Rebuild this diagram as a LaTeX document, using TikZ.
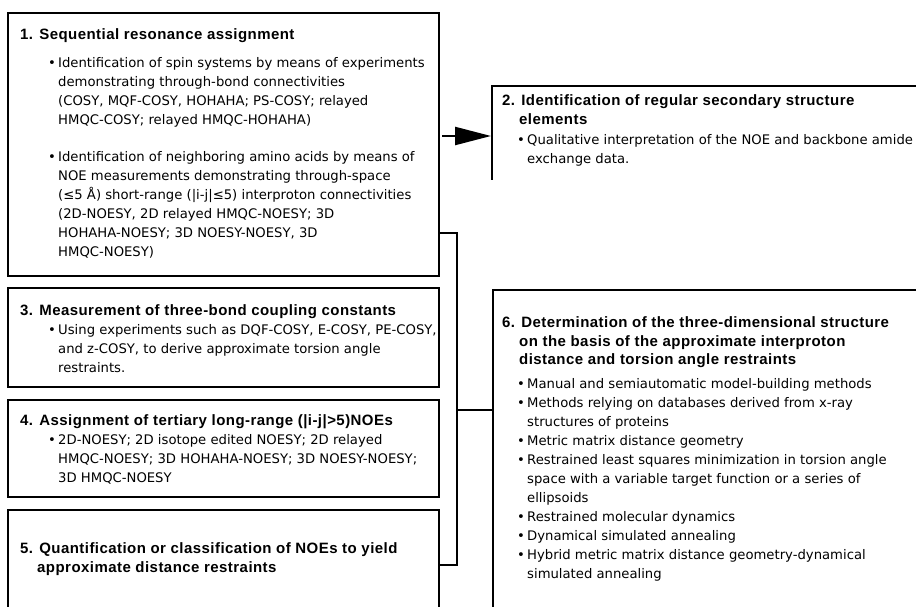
\documentclass[tikz,border=0pt]{standalone}
\usepackage{fontspec}
\usetikzlibrary{arrows.meta}
\setmainfont{Liberation Sans}
\newfontfamily\headfont[LetterSpace=3]{Liberation Sans}
\newfontfamily\bodyfont{DejaVu Sans}
% bullet and hanging indent for list lines
\newcommand\bul{\makebox[10pt][l]{•}}
\newcommand\ind{\hspace*{10pt}}
\begin{document}
\begin{tikzpicture}[x=1pt,y=-1pt,
  frame/.style={line width=2.6pt},
  link/.style={line width=2.3pt},
  head/.style={anchor=north west, align=left, inner sep=0pt,
    font=\headfont\bfseries\fontsize{15}{18.5}\selectfont},
  body/.style={anchor=north west, align=left, inner sep=0pt,
    font=\bodyfont\fontsize{13.2}{19}\selectfont}]
\useasboundingbox (0,0) rectangle (916,607);
\begin{scope}
\clip (0,0) rectangle (916,607);

% step boxes on the left
\coordinate (b1nw) at (8,13);   \coordinate (b1se) at (439,276);
\coordinate (b3nw) at (8,288);  \coordinate (b3se) at (439,387);
\coordinate (b4nw) at (8,400);  \coordinate (b4se) at (439,497);
\coordinate (b5nw) at (8,510);  \coordinate (b5se) at (439,625);
\draw[frame] (b1nw) rectangle (b1se);
\draw[frame] (b3nw) rectangle (b3se);
\draw[frame] (b4nw) rectangle (b4se);
\draw[frame] (b5nw) rectangle (b5se);

% step boxes on the right, running off the page edge
\coordinate (b2nw) at (492,86);  \coordinate (b2sw) at (492,180);
\coordinate (b2ne) at (930,86);
\coordinate (b6nw) at (493,290); \coordinate (b6sw) at (493,625);
\coordinate (b6ne) at (930,290);
\draw[frame] (b2sw) -- (b2nw) -- (b2ne);
\draw[frame] (b6sw) -- (b6nw) -- (b6ne);

% box 1
\node[head] (t1) at (20,28) {1. Sequential resonance assignment};
\node[body] (p1a) at (48,57.5) {\bul Identification of spin systems by means of experiments\\
\ind demonstrating through-bond connectivities\\
\ind (COSY, MQF-COSY, HOHAHA; PS-COSY; relayed\\
\ind HMQC-COSY; relayed HMQC-HOHAHA)};
\node[body] (p1b) at (48,151.5) {\bul Identification of neighboring amino acids by means of\\
\ind NOE measurements demonstrating through-space\\
\ind (≤5 Å) short-range (|i-j|≤5) interproton connectivities\\
\ind (2D-NOESY, 2D relayed HMQC-NOESY; 3D\\
\ind HOHAHA-NOESY; 3D NOESY-NOESY, 3D\\
\ind HMQC-NOESY)};

% box 2
\node[head] (t2) at (502,94.5) {2. Identification of regular secondary structure\\
\hspace*{17pt}elements};
\node[body] (p2) at (517,134.5) {\bul Qualitative interpretation of the NOE and backbone amide\\
\ind exchange data.};

% box 3
\node[head] (t3) at (20,304.5) {3. Measurement of three-bond coupling constants};
\node[body] (p3) at (48,324.5) {\bul Using experiments such as DQF-COSY, E-COSY, PE-COSY,\\
\ind and z-COSY, to derive approximate torsion angle\\
\ind restraints.};

% box 4
\node[head] (t4) at (20,414.5) {4. Assignment of tertiary long-range (|i-j|>5)NOEs};
\node[body] (p4) at (48,434.5) {\bul 2D-NOESY; 2D isotope edited NOESY; 2D relayed\\
\ind HMQC-NOESY; 3D HOHAHA-NOESY; 3D NOESY-NOESY;\\
\ind 3D HMQC-NOESY};

% box 5
\node[head] (t5) at (20,542.5) {5. Quantification or classification of NOEs to yield\\
\hspace*{17pt}approximate distance restraints};

% box 6
\node[head] (t6) at (502,316.5) {6. Determination of the three-dimensional structure\\
\hspace*{17pt}on the basis of the approximate interproton\\
\hspace*{17pt}distance and torsion angle restraints};
\node[body] (p6) at (517,378.5) {\bul Manual and semiautomatic model-building methods\\
\bul Methods relying on databases derived from x-ray\\
\ind structures of proteins\\
\bul Metric matrix distance geometry\\
\bul Restrained least squares minimization in torsion angle\\
\ind space with a variable target function or a series of\\
\ind ellipsoids\\
\bul Restrained molecular dynamics\\
\bul Dynamical simulated annealing\\
\bul Hybrid metric matrix distance geometry-dynamical\\
\ind simulated annealing};

% connectors
\coordinate (a1) at (442,136);
\coordinate (a2) at (491,136);
\draw[link, -{Triangle[length=36pt,width=18pt]}] (a1) -- (a2);
\coordinate (j1s) at (439,233);
\coordinate (j1) at (457,233);
\coordinate (j5) at (457,565);
\coordinate (j5e) at (439,565);
\coordinate (j6) at (457,410);
\coordinate (j6e) at (493,410);
\draw[link] (j1s) -- (j1) -- (j5) -- (j5e);
\draw[link] (j6) -- (j6e);
\end{scope}
\end{tikzpicture}
\end{document}
